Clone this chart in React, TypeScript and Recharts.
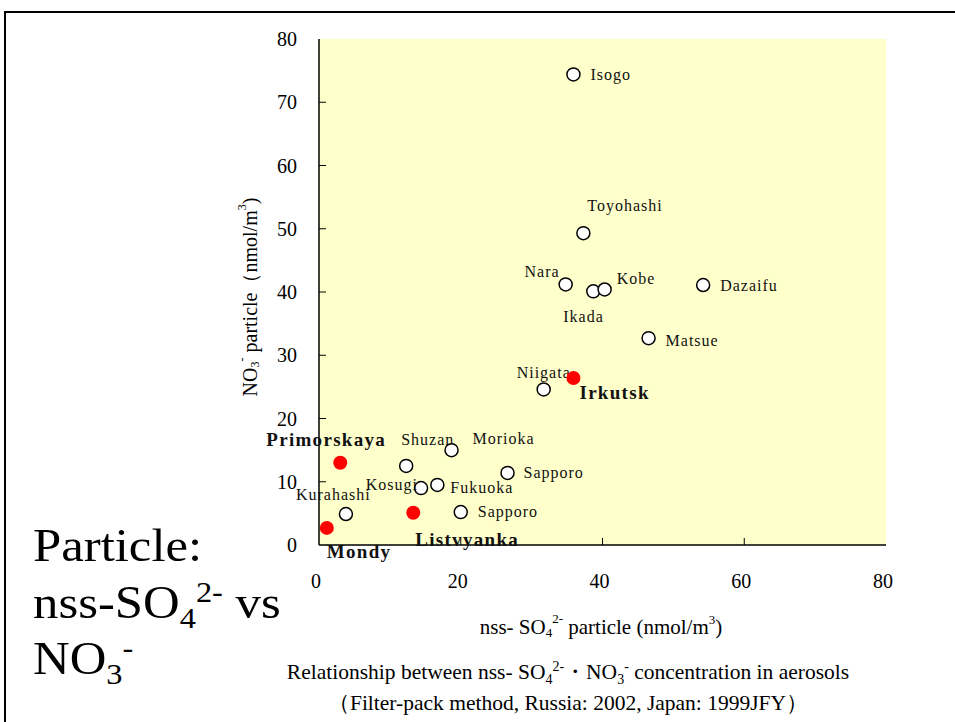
import { ScatterChart, Scatter, XAxis, YAxis, CartesianGrid, Label } from "recharts";

// nss-SO4 (x) vs NO3 (y), nmol/m3
const japanSites = ["Isogo", "Toyohashi", "Nara", "Ikada", "Kobe", "Dazaifu", "Matsue", "Niigata", "Shuzan", "Morioka", "Sapporo", "Kosugi", "Fukuoka", "Kurahashi", "Sapporo"];
const japanSO4 = [35.9, 37.3, 34.8, 38.7, 40.3, 54.2, 46.5, 31.7, 12.3, 18.7, 26.6, 14.4, 16.7, 3.8, 20.0];
const japanNO3 = [74.4, 49.3, 41.2, 40.1, 40.4, 41.1, 32.7, 24.6, 12.5, 15.0, 11.4, 9.0, 9.5, 4.9, 5.2];

const russiaSites = ["Irkutsk", "Primorskaya", "Listvyanka", "Mondy"];
const russiaSO4 = [35.9, 3.0, 13.3, 1.1];
const russiaNO3 = [26.4, 13.0, 5.1, 2.7];

const xTicks = [0, 20, 40, 60, 80];
const yTicks = [0, 10, 20, 30, 40, 50, 60, 70, 80];

// label placement (px offset from the marker, text anchor)
const japanLabelPos: [number, number, string][] = [
  [17, 0, "start"], [4, -28, "start"], [-6, -13, "end"], [-30, 25, "start"],
  [12, -11, "start"], [17, 0, "start"], [17, 2, "start"], [-27, -17, "start"],
  [-5, -26, "start"], [21, -12, "start"], [16, 0, "start"], [-3, -4, "end"],
  [13, 3, "start"], [-50, -20, "start"], [17, -1, "start"],
];
const russiaLabelPos: [number, number, string][] = [
  [6, 14, "start"], [-74, -23, "start"], [2, 27, "start"], [0, 24, "start"],
];

const SERIF = "'Liberation Serif', 'Times New Roman', serif";
const serif = { fontFamily: SERIF };

const japanData = japanSites.map((name, i) => ({ name, x: japanSO4[i], y: japanNO3[i], i }));
const russiaData = russiaSites.map((name, i) => ({ name, x: russiaSO4[i], y: russiaNO3[i], i }));

const YTick = (props: any) => {
  const { x, y, payload } = props;
  const v = payload.value;
  return (
    <g>
      {v > 0 && v < 80 && <line x1={x} x2={x + 7} y1={y} y2={y} stroke="#000" strokeWidth={1} />}
      <text x={x - 22} y={y} textAnchor="end" dominantBaseline="central" fontSize={20} style={serif} fill="#000">
        {v}
      </text>
    </g>
  );
};

const XTick = (props: any) => {
  const { x, y, payload } = props;
  const v = payload.value;
  return (
    <g>
      {v > 0 && v < 80 && <line x1={x} x2={x} y1={y} y2={y - 7} stroke="#000" strokeWidth={1} />}
      <text x={x - 3} y={y + 36} textAnchor="middle" dominantBaseline="central" fontSize={20} style={serif} fill="#000">
        {v}
      </text>
    </g>
  );
};

const JapanDot = (props: any) => {
  const { cx, cy, payload } = props;
  const [dx, dy, anchor] = japanLabelPos[payload.i];
  return (
    <g>
      <circle cx={cx} cy={cy} r={6.5} fill="#fff" stroke="#000" strokeWidth={1.5} />
      <text x={cx + dx} y={cy + dy} textAnchor={anchor} dominantBaseline="central" fontSize={16} letterSpacing={1} style={serif} fill="#111">
        {payload.name}
      </text>
    </g>
  );
};

const RussiaDot = (props: any) => {
  const { cx, cy, payload } = props;
  const [dx, dy, anchor] = russiaLabelPos[payload.i];
  return (
    <g>
      <circle cx={cx} cy={cy} r={7} fill="#ff0000" />
      <text x={cx + dx} y={cy + dy} textAnchor={anchor} dominantBaseline="central" fontSize={19} fontWeight="bold" letterSpacing={1.3} style={serif} fill="#111">
        {payload.name}
      </text>
    </g>
  );
};

const XLabel = () => {
  return (
    <text x={601} y={627} textAnchor="middle" dominantBaseline="central" fontSize={21} style={serif} fill="#000">
      nss- SO<tspan fontSize={13} dy={5}>4</tspan>
      <tspan fontSize={13} dy={-14}>2-</tspan>
      <tspan dy={9}> particle (nmol/m</tspan>
      <tspan fontSize={13} dy={-8}>3</tspan>
      <tspan dy={8}>)</tspan>
    </text>
  );
};

const YLabel = () => {
  return (
    <text x={0} y={0} transform="translate(250,297) rotate(-90)" textAnchor="middle" dominantBaseline="central" fontSize={20} style={serif} fill="#000">
      NO<tspan fontSize={12} dy={5}>3</tspan>
      <tspan fontSize={12} dy={-13}>-</tspan>
      <tspan dy={8}> particle（nmol/m</tspan>
      <tspan fontSize={12} dy={-8}>3</tspan>
      <tspan dy={8}>)</tspan>
    </text>
  );
};

const subStyle = { fontSize: 30, position: "relative" as const, top: 10, lineHeight: 0 };
const supStyle = { fontSize: 30, position: "relative" as const, top: -16, lineHeight: 0 };
const capSub = { fontSize: 14, position: "relative" as const, top: 5, lineHeight: 0 };
const capSup = { fontSize: 14, position: "relative" as const, top: -8, lineHeight: 0 };

const bigLine = {
  position: "absolute" as const,
  left: 33,
  fontSize: 47,
  lineHeight: "54px",
  color: "#000",
  whiteSpace: "nowrap" as const,
  transform: "scaleX(1.08)",
  transformOrigin: "left center",
};

const captionLine = {
  position: "absolute" as const,
  left: 118,
  width: 900,
  textAlign: "center" as const,
  fontSize: 21.5,
  lineHeight: "24px",
  color: "#000",
  whiteSpace: "nowrap" as const,
};

export default function App() {
  return (
    <div style={{ position: "absolute", left: 0, top: 0, width: 955, height: 722, background: "#fff", overflow: "hidden", fontFamily: SERIF }}>
      <div style={{ position: "absolute", left: 4, top: 11, width: 1000, height: 800, borderTop: "2px solid #000", borderLeft: "2px solid #000" }} />
      <ScatterChart width={955} height={722} margin={{ top: 39, right: 69, left: 0, bottom: 0 }} style={{ position: "absolute", left: 0, top: 0 }}>
        <CartesianGrid fill="#FFFFCC" fillOpacity={1} horizontal={false} vertical={false} />
        <XAxis type="number" dataKey="x" domain={[0, 80]} ticks={xTicks} height={177} tickSize={0} tickMargin={0} tickLine={false} axisLine={{ stroke: "#000", strokeWidth: 1.5 }} tick={<XTick />}>
          <Label content={<XLabel />} />
        </XAxis>
        <YAxis type="number" dataKey="y" domain={[0, 80]} ticks={yTicks} width={319} tickSize={0} tickMargin={0} tickLine={false} axisLine={{ stroke: "#000", strokeWidth: 1.5 }} tick={<YTick />}>
          <Label content={<YLabel />} />
        </YAxis>
        <XAxis xAxisId="top" orientation="top" type="number" domain={[0, 80]} height={0} tick={false} tickLine={false} axisLine={{ stroke: "#000", strokeWidth: 1.5 }} />
        <YAxis yAxisId="right" orientation="right" type="number" domain={[0, 80]} width={0} tick={false} tickLine={false} axisLine={{ stroke: "#000", strokeWidth: 2 }} />
        <Scatter name="Japan" data={japanData} shape={<JapanDot />} isAnimationActive={false} />
        <Scatter name="Russia" data={russiaData} shape={<RussiaDot />} isAnimationActive={false} />
      </ScatterChart>

      <div style={{ ...bigLine, top: 518 }}>Particle:</div>
      <div style={{ ...bigLine, top: 575 }}>
        nss-SO<span style={subStyle}>4</span>
        <span style={supStyle}>2-</span> vs
      </div>
      <div style={{ ...bigLine, top: 631 }}>
        NO<span style={subStyle}>3</span>
        <span style={supStyle}>-</span>
      </div>

      <div style={{ ...captionLine, top: 660 }}>
        Relationship between nss- SO<span style={capSub}>4</span>
        <span style={capSup}>2-</span>・NO<span style={capSub}>3</span>
        <span style={capSup}>-</span> concentration in aerosols
      </div>
      <div style={{ ...captionLine, top: 691 }}>（Filter-pack method, Russia: 2002, Japan: 1999JFY）</div>
    </div>
  );
}
